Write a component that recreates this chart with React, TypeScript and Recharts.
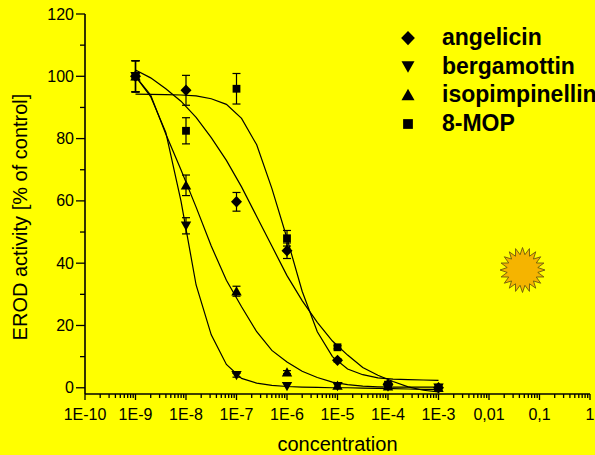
import React from "react";
import { ComposedChart, Line, XAxis, YAxis, ErrorBar } from "recharts";

const seriesNames = ["angelicin", "bergamottin", "isopimpinellin", "8-MOP"];

// log10 of the concentration
const pointExp = [-9, -8, -7, -6, -5, -4, -3];
const angelicinValues = [100, 95.5, 59.7, 44, 8.8, 1, 0];
const angelicinErrors = [5, 4.8, 3, 2.5, 0.5, 0, 0];
const bergamottinValues = [100, 52, 4, 0.5, 0.5, 0.3, 0];
const bergamottinErrors = [5, 2.6, 0.6, 0, 0, 0, 0];
const isopimpinellinValues = [100, 65, 31, 5, 0.7, 0.5, 0];
const isopimpinellinErrors = [5, 3.3, 1.6, 0.5, 0, 0, 0];
const mopValues = [100, 82.5, 96, 48, 13, 1, 0];
const mopErrors = [5, 4.2, 4.9, 2.5, 0.5, 0, 0];

// fitted curves
const curveExp = [
  -9, -8.7, -8.4, -8.1, -7.8, -7.5, -7.2, -6.9, -6.6, -6.3, -6,
  -5.7, -5.4, -5.1, -4.8, -4.5, -4.2, -3.9, -3.6, -3.3, -3,
];
const angelicinCurve = [102, 99.5, 96, 92, 86.8, 80.3, 73, 64.5, 55, 45.5, 36, 28, 21, 15, 10.5, 6.5, 4, 2, 0.3, -0.8, -1.3];
const bergamottinCurve = [100, 93.5, 82, 60, 33, 17, 7.5, 3, 1.5, 0.8, 0.4, 0.2, 0.1, 0, 0, -0.1, -0.2, -0.3, -0.4, -0.5, -0.5];
const isopimpinellinCurve = [100, 94, 81.5, 70, 58, 45.5, 34.5, 26, 18, 12, 8.3, 5.3, 3.3, 1.8, 1, 0.5, 0.3, 0.2, 0.2, 0.2, 0.2];
const mopCurve = [94.3, 94.2, 94.1, 94, 93.7, 92.8, 91, 86.5, 78, 64, 48, 31, 18, 10, 6, 4.2, 3.2, 2.8, 2.6, 2.5, 2.4];

const xMajorExp = [-10, -9, -8, -7, -6, -5, -4, -3, -2, -1, 0];
const xTickLabels = ["1E-10", "1E-9", "1E-8", "1E-7", "1E-6", "1E-5", "1E-4", "1E-3", "0,01", "0,1", "1"];
const xMinorFactors = [2, 3, 4, 5, 6, 7, 8, 9];
const yTicks = [0, 10, 20, 30, 40, 50, 60, 70, 80, 90, 100, 110, 120];

const FONT = '"Liberation Sans", Arial, sans-serif';

const xTicks = [
  ...xMajorExp,
  ...xMajorExp.slice(0, -1).flatMap((e) => xMinorFactors.map((f) => e + Math.log10(f))),
];

function toPoints(values: number[], errors: number[]) {
  return pointExp.map((x, i) => ({ x, y: values[i], err: errors[i] }));
}
function toCurve(values: number[]) {
  return curveExp.map((x, i) => ({ x, y: values[i] }));
}

function markerPath(name: string, cx: number, cy: number, s: number) {
  if (name === "angelicin")
    return `M${cx},${cy - 5.7 * s}L${cx + 5.5 * s},${cy}L${cx},${cy + 5.7 * s}L${cx - 5.5 * s},${cy}Z`;
  if (name === "bergamottin")
    return `M${cx - 5.2 * s},${cy - 4.2 * s}L${cx + 5.2 * s},${cy - 4.2 * s}L${cx},${cy + 5 * s}Z`;
  if (name === "isopimpinellin")
    return `M${cx - 5.2 * s},${cy + 4.2 * s}L${cx + 5.2 * s},${cy + 4.2 * s}L${cx},${cy - 5 * s}Z`;
  return `M${cx - 3.9 * s},${cy - 3.9 * s}H${cx + 3.9 * s}V${cy + 3.9 * s}H${cx - 3.9 * s}Z`;
}

const XTick = ({ x, y, payload }: any) => {
  const idx = xMajorExp.indexOf(payload.value);
  const major = idx >= 0;
  return (
    <g>
      <line x1={x} x2={x} y1={y} y2={y + (major ? 6 : 4)} stroke="#000" strokeWidth={1.3} />
      {major && (
        <text x={x} y={y + 26} textAnchor="middle" fontSize={16} fontFamily={FONT} fill="#000">
          {xTickLabels[idx]}
        </text>
      )}
    </g>
  );
};

const YTick = ({ x, y, payload }: any) => {
  const major = payload.value % 20 === 0;
  return (
    <g>
      <line x1={x} x2={x - (major ? 9 : 5)} y1={y} y2={y} stroke="#000" strokeWidth={1.3} />
      {major && (
        <text x={x - 11} y={y + 5.5} textAnchor="end" fontSize={16} fontFamily={FONT} fill="#000">
          {payload.value}
        </text>
      )}
    </g>
  );
};

function Sun() {
  const cx = 522.5, cy = 270, spikes = 20;
  const pts: string[] = [];
  for (let i = 0; i < spikes * 2; i++) {
    const r = i % 2 === 0 ? 22.5 : 15.5;
    const a = (Math.PI * i) / spikes;
    pts.push(`${cx + r * Math.sin(a)},${cy - r * Math.cos(a)}`);
  }
  return (
    <svg width={595} height={455} style={{ position: "absolute", left: 0, top: 0 }}>
      <polygon points={pts.join(" ")} fill="#F5B400" stroke="#5A4A10" strokeWidth={0.8} />
    </svg>
  );
}

const legendRows = [38, 66.5, 95, 124];

function ChartLegend() {
  return (
    <svg width={595} height={455} style={{ position: "absolute", left: 0, top: 0 }}>
      {seriesNames.map((name, i) => (
        <g key={name}>
          <path d={markerPath(name, 408, legendRows[i], 1.25)} fill="#000" />
          <text x={442} y={legendRows[i] + 7} fontSize={23} fontWeight="bold" fontFamily={FONT} fill="#000">
            {name}
          </text>
        </g>
      ))}
    </svg>
  );
}

const series = [
  { name: seriesNames[0], points: toPoints(angelicinValues, angelicinErrors), curve: toCurve(angelicinCurve) },
  { name: seriesNames[1], points: toPoints(bergamottinValues, bergamottinErrors), curve: toCurve(bergamottinCurve) },
  { name: seriesNames[2], points: toPoints(isopimpinellinValues, isopimpinellinErrors), curve: toCurve(isopimpinellinCurve) },
  { name: seriesNames[3], points: toPoints(mopValues, mopErrors), curve: toCurve(mopCurve) },
];

export default function App() {
  return (
    <div style={{ position: "absolute", left: 0, top: 0, width: 595, height: 455, overflow: "hidden", background: "#FFFF00" }}>
      <ComposedChart width={595} height={455} margin={{ top: 14, right: 5, bottom: 11, left: 25 }}>
        <XAxis
          type="number"
          dataKey="x"
          domain={[-10, 0]}
          ticks={xTicks}
          interval={0}
          tick={<XTick />}
          tickLine={false}
          tickSize={0}
          tickMargin={0}
          height={50}
          axisLine={{ stroke: "#000", strokeWidth: 1.6 }}
          label={{ value: "concentration", position: "insideBottom", offset: -7, fontSize: 20, fontFamily: FONT, fill: "#000" }}
        />
        <YAxis
          type="number"
          domain={[-2, 120]}
          ticks={yTicks}
          interval={0}
          tick={<YTick />}
          tickLine={false}
          tickSize={0}
          tickMargin={0}
          width={60}
          axisLine={{ stroke: "#000", strokeWidth: 1.6 }}
          label={{ value: "EROD activity [% of control]", angle: -90, position: "insideLeft", offset: 0, dx: -5, dy: 13, fontSize: 20, fontFamily: FONT, fill: "#000", style: { textAnchor: "middle" } }}
        />
        {series.map((s) => (
          <Line
            key={s.name + "-fit"}
            data={s.curve}
            dataKey="y"
            type="linear"
            stroke="#000"
            strokeWidth={1.2}
            dot={false}
            legendType="none"
            isAnimationActive={false}
          />
        ))}
        {series.map((s) => (
          <Line
            key={s.name}
            data={s.points}
            dataKey="y"
            name={s.name}
            stroke="none"
            dot={(p: any) => <path key={p.index} d={markerPath(s.name, p.cx, p.cy, 1)} fill="#000" />}
            isAnimationActive={false}
          >
            <ErrorBar dataKey="err" direction="y" width={4} stroke="#000" strokeWidth={1.2} isAnimationActive={false} />
          </Line>
        ))}
      </ComposedChart>
      <ChartLegend />
      <Sun />
    </div>
  );
}
